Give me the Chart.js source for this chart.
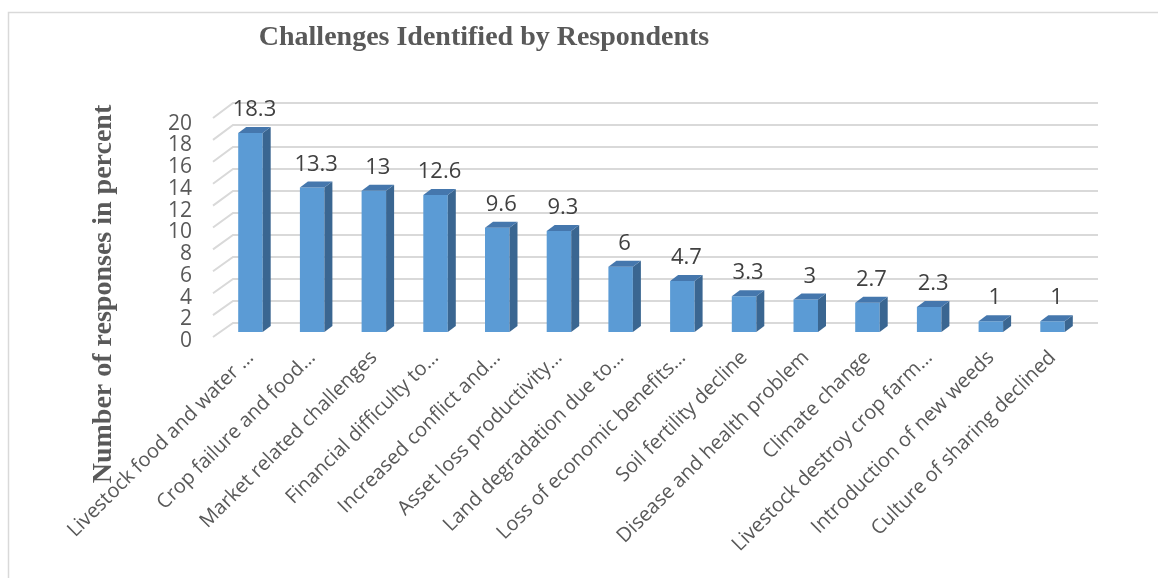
<!DOCTYPE html>
<html>
<head>
<meta charset="utf-8">
<script src="https://cdn.jsdelivr.net/npm/chart.js@4"></script>
<style>
html,body{margin:0;padding:0;background:#fff;}
#wrap{position:relative;width:1158px;height:578px;}
canvas{display:block;}
</style>
</head>
<body>
<div id="wrap"><canvas id="c" width="1158" height="578" style="width:1158px;height:578px"></canvas></div>
<script>
// ---- data ----
const categories = [
  "Livestock food and water …",
  "Crop failure and food…",
  "Market related challenges",
  "Financial difficulty to…",
  "Increased conflict and…",
  "Asset loss productivity…",
  "Land degradation due to…",
  "Loss of economic benefits…",
  "Soil fertility decline",
  "Disease and health problem",
  "Climate change",
  "Livestock destroy crop farm…",
  "Introduction of new weeds",
  "Culture of sharing declined"
];
const values = [18.3, 13.3, 13, 12.6, 9.6, 9.3, 6, 4.7, 3.3, 3, 2.7, 2.3, 1, 1];
const yTicks = [0, 2, 4, 6, 8, 10, 12, 14, 16, 18, 20];
const chartTitle = "Challenges Identified by Respondents";
const yAxisTitle = "Number of responses in percent";

// ---- styling ----
const FRONT = '#5B9BD5', SIDE = '#3A6691', TOP = '#4577AD';
const DX = 8, DY = -6;
const SANS = '"Open Sans", "Liberation Sans", sans-serif';
const SERIF = '"Liberation Serif", "DejaVu Serif", serif';

const threeD = {
  id: 'threeD',
  beforeDraw(chart) {
    const ctx = chart.ctx;
    ctx.save();
    ctx.strokeStyle = '#d9d9d9';
    ctx.lineWidth = 1.5;
    ctx.beginPath();
    ctx.moveTo(8.5, 578);
    ctx.lineTo(8.5, 12.5);
    ctx.lineTo(1158, 12.5);
    ctx.stroke();
    ctx.fillStyle = '#595959';
    ctx.font = 'bold 28px ' + SERIF;
    ctx.textAlign = 'center';
    ctx.textBaseline = 'alphabetic';
    ctx.fillText(chartTitle, 484, 45);
    ctx.translate(111, 294);
    ctx.rotate(-Math.PI / 2);
    ctx.fillText(yAxisTitle, 0, 0);
    ctx.restore();
  },
  beforeDatasetsDraw(chart) {
    const ctx = chart.ctx, y = chart.scales.y, a = chart.chartArea;
    ctx.save();
    ctx.strokeStyle = '#d9d9d9';
    ctx.lineWidth = 2;
    yTicks.forEach(v => {
      const p = y.getPixelForValue(v);
      const back = p - 9 - 0.13 * v;
      const front = p + 5 - 0.08 * v;
      ctx.beginPath();
      ctx.moveTo(a.left - 6.6, front);
      ctx.lineTo(a.left + 13.4, back);
      ctx.lineTo(a.right + 14.6, back);
      ctx.stroke();
    });
    ctx.restore();
  },
  afterDatasetsDraw(chart) {
    const ctx = chart.ctx;
    const meta = chart.getDatasetMeta(0);
    ctx.save();
    meta.data.forEach((bar, i) => {
      const w = bar.width, l = bar.x - w / 2, r = bar.x + w / 2, t = bar.y, b = bar.base;
      ctx.fillStyle = SIDE;
      ctx.beginPath();
      ctx.moveTo(r, t); ctx.lineTo(r + DX, t + DY); ctx.lineTo(r + DX, b + DY); ctx.lineTo(r, b);
      ctx.closePath(); ctx.fill();
      ctx.fillStyle = TOP;
      ctx.beginPath();
      ctx.moveTo(l, t); ctx.lineTo(l + DX, t + DY); ctx.lineTo(r + DX, t + DY); ctx.lineTo(r, t);
      ctx.closePath(); ctx.fill();
      ctx.fillStyle = '#404040';
      ctx.font = '22px ' + SANS;
      ctx.textAlign = 'center';
      ctx.textBaseline = 'middle';
      ctx.fillText(String(values[i]), bar.x + 4, t - 23);
    });
    ctx.restore();
  }
};

new Chart(document.getElementById('c'), {
  type: 'bar',
  data: {
    labels: categories,
    datasets: [{
      data: values,
      backgroundColor: FRONT,
      borderWidth: 0,
      categoryPercentage: 1,
      barPercentage: 0.397
    }]
  },
  options: {
    responsive: false,
    animation: false,
    devicePixelRatio: 1,
    layout: { padding: { left: 0, top: 114.6, right: 74.6, bottom: 0 } },
    plugins: { legend: { display: false }, title: { display: false }, tooltip: { enabled: false } },
    scales: {
      x: {
        grid: { display: false, drawTicks: false },
        border: { display: false },
        ticks: {
          autoSkip: false, minRotation: 45, maxRotation: 45, padding: 14,
          color: '#595959', font: { family: SANS, size: 20 }
        },
        afterFit(s) { s.height = 246; }
      },
      y: {
        min: 0, max: 20,
        grid: { display: false, drawTicks: false },
        border: { display: false },
        afterBuildTicks(s) { s.ticks = yTicks.map(v => ({ value: v })); },
        ticks: {
          autoSkip: false, padding: 27.6, labelOffset: 9,
          color: '#595959', font: { family: SANS, size: 21 }
        },
        afterFit(s) { s.width = 219.6; }
      }
    }
  },
  plugins: [threeD]
});
</script>
</body>
</html>
